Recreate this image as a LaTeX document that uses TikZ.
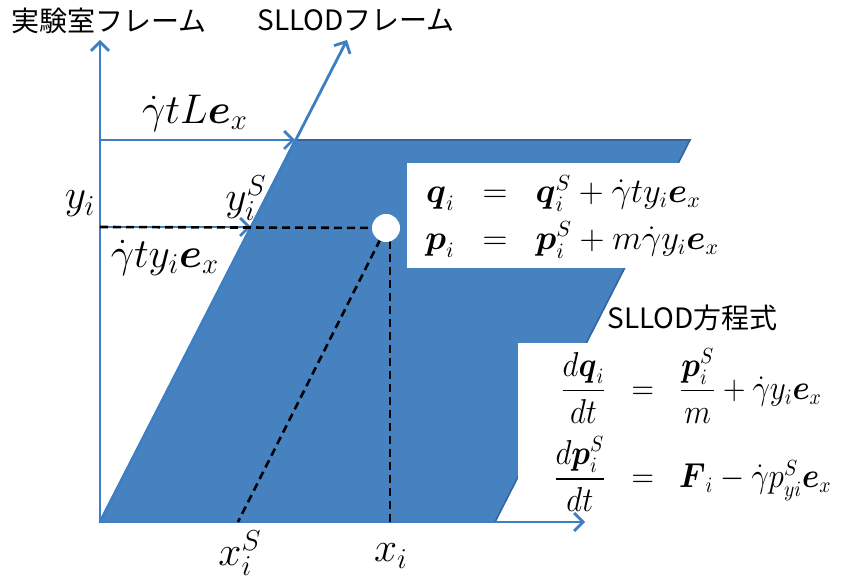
\documentclass[tikz,border=0pt]{standalone}
\usepackage{fontspec}
\usepackage{amsmath}
\usetikzlibrary{arrows.meta}
\newfontfamily\jpfont{Noto Sans CJK JP}
\definecolor{shearblue}{RGB}{70,130,192}
\definecolor{edgeblue}{RGB}{52,100,156}
\definecolor{axisblue}{RGB}{62,127,196}
\tikzset{
  axis/.style={->, axisblue, line width=1.4pt},
  guide/.style={black, line width=1.3pt, dash pattern=on 4pt off 2.5pt},
  mathlabel/.style={font=\fontsize{20}{24}\selectfont},
  jplabel/.style={font=\jpfont\fontsize{14}{16}\selectfont, inner sep=0pt},
  eqbox/.style={anchor=west, inner sep=0pt, font=\fontsize{16}{19}\selectfont}
}

\begin{document}
\begin{tikzpicture}[x=0.5pt, y=-0.5pt, >={Straight Barb[length=4.5pt,width=9pt]}]
        \useasboundingbox (0,0) rectangle (841,587);
        \coordinate (O) at (100,522);
        \coordinate (LT) at (100,40);
        \coordinate (ST) at (347,40);
        \coordinate (XT) at (585,522);
        \coordinate (A) at (100,140);
        \coordinate (D) at (295,140);
        \coordinate (C) at (690,140);
        \coordinate (B) at (495,522);
        \coordinate (Y) at (100,227);
        \coordinate (YS) at (251,227);
        \coordinate (P) at (386,228);
        \coordinate (XS) at (238,522);
        \coordinate (X) at (390,522);
        % sheared box
        \fill[shearblue, draw=edgeblue, line width=0.8pt] (O) -- (B) -- (C) -- (D) -- cycle;
        \fill[white] (407,163) rectangle (730,268);
        \fill[white] (518,343) rectangle (841,587);
        % frames
        \draw[axis] (O) -- (LT);
        \draw[axis] (O) -- (ST);
        \draw[axis] (O) -- (XT);
        \draw[axis] (A) -- (D);
        \draw[axis] (Y) -- (YS);
        % particle
        \draw[guide] (Y) -- (P);
        \draw[guide] (P) -- (XS);
        \draw[guide] ([xshift=2pt]P) -- (X);
        \fill[white] (P) circle (7pt);
        \node[mathlabel] (shear) at (195,113) {$\dot\gamma t L \boldsymbol{e}_x$};
        \node[mathlabel] (yi) at (80,204) {$y_i$};
        \node[mathlabel] (yiS) at (246,198) {$y_i^S$};
        \node[mathlabel] (shift) at (165,258) {$\dot\gamma t y_i \boldsymbol{e}_x$};
        \node[mathlabel] (xiS) at (240,553) {$x_i^S$};
        \node[mathlabel] (xi) at (391,556) {$x_i$};
        % captions
        \node[jplabel, anchor=west] (lab) at (11,21) {実験室フレーム};
        \node[jplabel, anchor=west] (sllod) at (257,20) {SLLODフレーム};
        \node[jplabel, anchor=west] (eqtitle) at (607,318) {SLLOD方程式};
        % equations
        \node[eqbox] (trans) at (425,218)
            {$\begin{array}{@{}r@{\hspace{14pt}}c@{\hspace{14pt}}l@{}}
             \boldsymbol{q}_i &=& \boldsymbol{q}_i^S + \dot\gamma t y_i \boldsymbol{e}_x \\[4pt]
             \boldsymbol{p}_i &=& \boldsymbol{p}_i^S + m\dot\gamma y_i \boldsymbol{e}_x
             \end{array}$};
        \node[eqbox] (motion) at (553,430)
            {\scalebox{0.9}[1]{$\begin{array}{@{}r@{\hspace{14pt}}c@{\hspace{14pt}}l@{}}
             \dfrac{d\boldsymbol{q}_i}{dt} &=& \dfrac{\boldsymbol{p}_i^S}{m} + \dot\gamma y_i \boldsymbol{e}_x \\[13pt]
             \dfrac{d\boldsymbol{p}_i^S}{dt} &=& \boldsymbol{F}_i - \dot\gamma p_{yi}^S \boldsymbol{e}_x
             \end{array}$}};
    \end{tikzpicture}
\end{document}
